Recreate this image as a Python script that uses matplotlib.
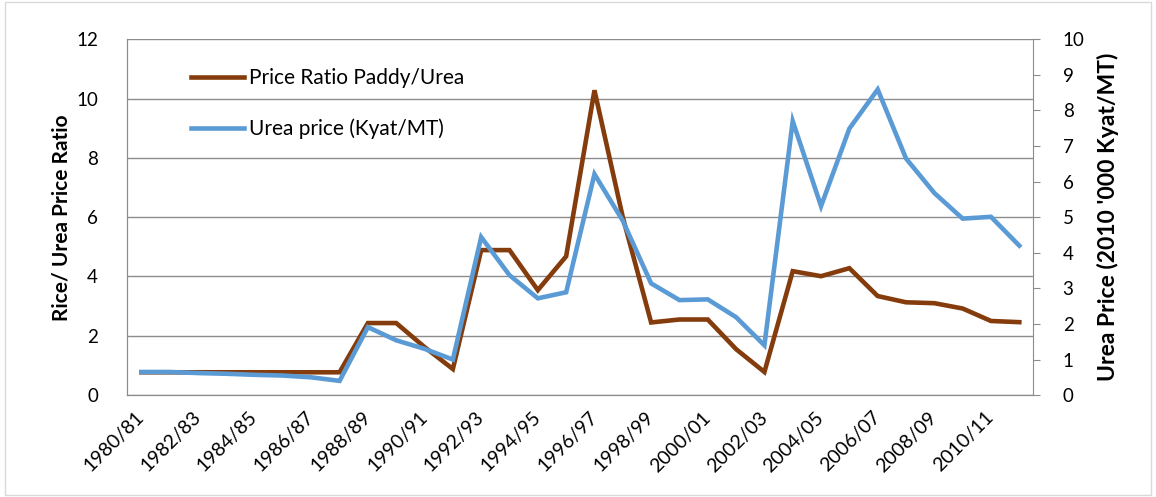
import numpy as np
import matplotlib
matplotlib.use('Agg')
import matplotlib.pyplot as plt
from matplotlib.patches import Rectangle

plt.rcParams['font.family'] = ['Lato', 'DejaVu Sans']

# crop years 1980/81 .. 2011/12
years = ['%d/%02d' % (y, (y + 1) % 100) for y in range(1980, 2012)]

ratio = [0.77, 0.77, 0.77, 0.77, 0.77, 0.77, 0.77, 0.77, 2.43, 2.43, 1.62, 0.88,
         4.89, 4.89, 3.54, 4.68, 10.28, 6.0, 2.45, 2.55, 2.55, 1.55, 0.78, 4.18,
         4.01, 4.28, 3.34, 3.13, 3.10, 2.92, 2.50, 2.46]

urea = [0.65, 0.65, 0.62, 0.60, 0.57, 0.55, 0.50, 0.40, 1.91, 1.54, 1.30, 1.00,
        4.44, 3.37, 2.72, 2.89, 6.21, 4.90, 3.14, 2.67, 2.69, 2.19, 1.40, 7.70,
        5.31, 7.49, 8.59, 6.65, 5.68, 4.96, 5.01, 4.20]

brown = '#843C0C'
blue = '#5B9BD5'
grid_col = '#8C8C8C'

fig = plt.figure(figsize=(11.56, 4.97), dpi=100)
ax = fig.add_axes([0.110, 0.205, 0.784, 0.716])
ax2 = ax.twinx()

x = np.arange(len(years))
l1, = ax.plot(x, ratio, color=brown, lw=3.3, solid_joinstyle='miter', label='Price Ratio Paddy/Urea')
l2, = ax2.plot(x, urea, color=blue, lw=3.3, solid_joinstyle='miter', label='Urea price (Kyat/MT)')

ax.set_xlim(-0.5, len(years) - 0.5)
ax.set_ylim(0, 12)
ax.set_yticks(range(0, 13, 2))
ax2.set_ylim(0, 10)
ax2.set_yticks(range(0, 11))

ax.yaxis.grid(True, color=grid_col, lw=1)
ax.set_axisbelow(True)

ax.set_xticks(x[::2])
ax.set_xticklabels(years[::2], rotation=45, ha='right', va='center', rotation_mode='anchor', fontsize=14)
ax.tick_params(axis='x', length=0, pad=14)
ax.tick_params(axis='y', length=0, labelsize=13.5, pad=21)
ax2.tick_params(axis='y', length=5, color=grid_col, labelsize=13.5, pad=16)

for a in (ax, ax2):
    a.spines['top'].set_visible(False)
    for s in ('left', 'right', 'bottom'):
        a.spines[s].set_color(grid_col)
ax.spines['right'].set_visible(False)

ax.set_ylabel('Rice/ Urea Price Ratio', fontsize=15, fontweight='bold', labelpad=3)
ax2.set_ylabel("Urea Price (2010 '000 Kyat/MT)", fontsize=16.5, fontweight='bold', labelpad=9)

leg = ax.legend(handles=[l1, l2], loc='upper left', bbox_to_anchor=(0.0706, 0.918),
                frameon=False, fontsize=15, handlelength=2.55, handletextpad=0.25,
                labelspacing=1.45, borderpad=0, borderaxespad=0)

fig.patches.append(Rectangle((0.004, 0.004), 0.992, 0.992, transform=fig.transFigure,
                             fill=False, edgecolor='#D9D9D9', lw=1))

fig.savefig('out.png', dpi=100)
